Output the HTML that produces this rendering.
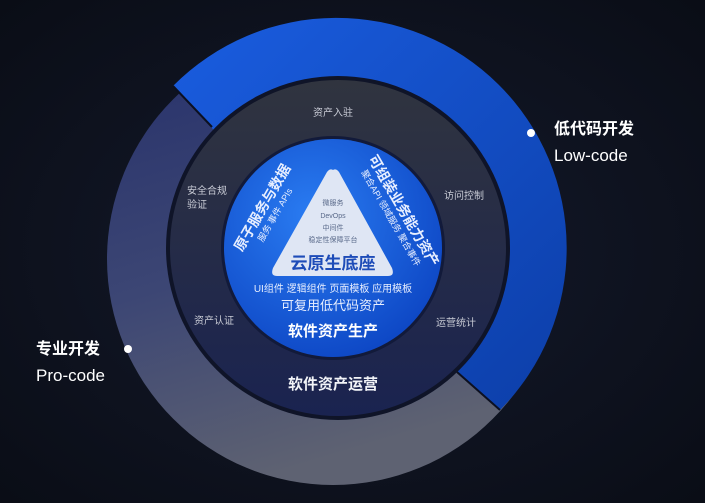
<!DOCTYPE html>
<html><head><meta charset="utf-8"><style>
html,body{margin:0;padding:0;background:#0c0f1a;}
svg{display:block;font-family:"Liberation Sans","Noto Sans CJK SC",sans-serif;}
</style></head><body>
<svg width="705" height="503" viewBox="0 0 705 503" xmlns="http://www.w3.org/2000/svg">
<defs>
<radialGradient id="bg" cx="50%" cy="50%" r="70%"><stop offset="0" stop-color="#141a2c"/><stop offset="1" stop-color="#0a0d16"/></radialGradient>
<linearGradient id="gray" x1="0" y1="0" x2="0.3" y2="1"><stop offset="0" stop-color="#26306a"/><stop offset="0.55" stop-color="#3c4674"/><stop offset="1" stop-color="#5e6272"/></linearGradient>
<linearGradient id="blue" x1="0" y1="0" x2="1" y2="1"><stop offset="0" stop-color="#1a5de0"/><stop offset="1" stop-color="#0c3ea8"/></linearGradient>
<linearGradient id="mid" x1="0" y1="0" x2="0" y2="1"><stop offset="0" stop-color="#30343f"/><stop offset="1" stop-color="#1a2350"/></linearGradient>
<radialGradient id="inner" cx="40%" cy="35%" r="70%"><stop offset="0" stop-color="#2a7cf2"/><stop offset="1" stop-color="#0d46c4"/></radialGradient>
</defs>
<rect width="705" height="503" fill="url(#bg)"/>
<circle cx="333" cy="259" r="226" fill="url(#gray)"/>
<path d="M333 259 L173 86 A226 226 0 0 1 500 410 Z" fill="url(#blue)"/>
<line x1="173" y1="86" x2="212" y2="127" stroke="#0c1020" stroke-width="2"/>
<line x1="457" y1="372" x2="500" y2="410" stroke="#0c1020" stroke-width="2"/>
<circle cx="338" cy="248" r="172" fill="#0f1428"/>
<circle cx="338" cy="248" r="168" fill="url(#mid)"/>
<circle cx="333" cy="248" r="112" fill="#121a3a"/>
<circle cx="333" cy="248" r="109" fill="url(#inner)"/>
<path d="M333 170 Q336 168 339 172 L392 268 Q395 276 388 276 L277 276 Q270 276 273 268 L327 172 Q330 168 333 170 Z" fill="#dfe6f4"/>
<g fill="#5a6a8a" font-size="7" text-anchor="middle">
<text x="333" y="205">微服务</text>
<text x="333" y="218">DevOps</text>
<text x="333" y="230">中间件</text>
<text x="333" y="242">稳定性保障平台</text>
</g>
<text x="333" y="269" font-size="17" font-weight="bold" fill="#1e4cb8" text-anchor="middle">云原生底座</text>
<g fill="#e8efff" text-anchor="middle">
<text x="333" y="292" font-size="10">UI组件 逻辑组件 页面模板 应用模板</text>
<text x="333" y="310" font-size="13">可复用低代码资产</text>
<text x="333" y="336" font-size="15" font-weight="bold" fill="#fff">软件资产生产</text>
</g>
<g transform="translate(270,212) rotate(-60)" text-anchor="middle" fill="#e8efff">
<text x="0" y="-4" font-size="14" font-weight="bold">原子服务与数据</text>
<text x="0" y="9" font-size="9">服务 事件 APIs</text>
</g>
<g transform="translate(396,215) rotate(60)" text-anchor="middle" fill="#e8efff">
<text x="0" y="-4" font-size="14" font-weight="bold">可组装业务能力资产</text>
<text x="0" y="9" font-size="9">聚合API 领域服务 聚合事件</text>
</g>
<g fill="#c9ccd6" font-size="10">
<text x="333" y="116" text-anchor="middle">资产入驻</text>
<text x="187" y="194">安全合规</text>
<text x="187" y="208">验证</text>
<text x="444" y="199">访问控制</text>
<text x="194" y="324">资产认证</text>
<text x="436" y="326">运营统计</text>
</g>
<text x="333" y="389" font-size="15" font-weight="bold" fill="#f2f4f8" text-anchor="middle">软件资产运营</text>
<circle cx="531" cy="133" r="4" fill="#fff"/>
<text x="554" y="134" font-size="16" font-weight="bold" fill="#fff">低代码开发</text>
<text x="554" y="161" font-size="17" fill="#fff">Low-code</text>
<circle cx="128" cy="349" r="4" fill="#fff"/>
<text x="36" y="354" font-size="16" font-weight="bold" fill="#fff">专业开发</text>
<text x="36" y="381" font-size="17" fill="#fff">Pro-code</text>
</svg>
</body></html>
